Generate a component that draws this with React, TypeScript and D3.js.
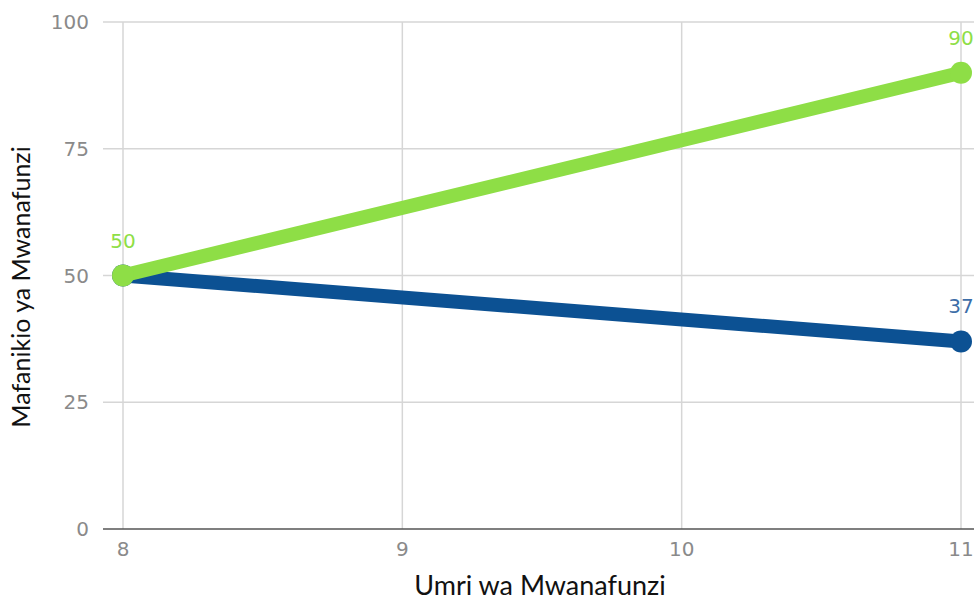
import { useEffect, useRef } from "react";
import * as d3 from "d3";

const ages = [8, 11];
const greenValues = [50, 90];
const blueValues = [50, 37];
const xTicks = [8, 9, 10, 11];
const yTicks = [0, 25, 50, 75, 100];
const xTitle = "Umri wa Mwanafunzi";
const yTitle = "Mafanikio ya Mwanafunzi";

const series = [
  { name: "blue", values: blueValues, color: "#0c5193", labelColor: "#3d6ea8", showLabel: [false, true] },
  { name: "green", values: greenValues, color: "#8ede46", labelColor: "#8ede46", showLabel: [true, true] },
];

export default function App() {
  const svgRef = useRef<SVGSVGElement>(null);

  useEffect(() => {
    const svg = d3.select(svgRef.current);
    svg.selectAll("*").remove();

    const x = d3.scaleLinear().domain([8, 11]).range([123, 961]);
    const y = d3.scaleLinear().domain([0, 100]).range([529, 22]);

    // grid
    svg
      .append("g")
      .selectAll("line")
      .data(yTicks.filter((t) => t > 0))
      .join("line")
      .attr("x1", 103)
      .attr("x2", 974)
      .attr("y1", (d) => y(d))
      .attr("y2", (d) => y(d))
      .attr("stroke", "#d6d6d6")
      .attr("stroke-width", 1.5);

    svg
      .append("g")
      .selectAll("line")
      .data(xTicks)
      .join("line")
      .attr("x1", (d) => x(d))
      .attr("x2", (d) => x(d))
      .attr("y1", y(100))
      .attr("y2", y(0))
      .attr("stroke", "#d6d6d6")
      .attr("stroke-width", 1.5);

    // baseline
    svg
      .append("line")
      .attr("x1", 103)
      .attr("x2", 974)
      .attr("y1", y(0))
      .attr("y2", y(0))
      .attr("stroke", "#555")
      .attr("stroke-width", 1.5);

    // tick labels
    svg
      .append("g")
      .selectAll("text")
      .data(yTicks)
      .join("text")
      .attr("x", 89)
      .attr("y", (d) => y(d))
      .attr("dy", "0.36em")
      .attr("text-anchor", "end")
      .attr("fill", "#8a8a8a")
      .style("font-family", "'DejaVu Sans', sans-serif")
      .style("font-size", "20px")
      .text((d) => d);

    svg
      .append("g")
      .selectAll("text")
      .data(xTicks)
      .join("text")
      .attr("x", (d) => x(d))
      .attr("y", 556)
      .attr("text-anchor", "middle")
      .attr("fill", "#8a8a8a")
      .style("font-family", "'DejaVu Sans', sans-serif")
      .style("font-size", "20px")
      .text((d) => d);

    // axis titles
    svg
      .append("text")
      .attr("x", 540)
      .attr("y", 595)
      .attr("text-anchor", "middle")
      .attr("fill", "#111")
      .style("font-family", "Lato, sans-serif")
      .style("font-size", "27px")
      .text(xTitle);

    svg
      .append("text")
      .attr("transform", "translate(30,287) rotate(-90)")
      .attr("text-anchor", "middle")
      .attr("fill", "#111")
      .style("font-family", "Lato, sans-serif")
      .style("font-size", "25px")
      .text(yTitle);

    const line = d3
      .line<number>()
      .x((_, i) => x(ages[i]))
      .y((d) => y(d));

    series.forEach((s) => {
      const g = svg.append("g");
      g.append("path")
        .datum(s.values)
        .attr("fill", "none")
        .attr("stroke", s.color)
        .attr("stroke-width", 14)
        .attr("d", line);

      g.selectAll("circle")
        .data(s.values)
        .join("circle")
        .attr("cx", (_, i) => x(ages[i]))
        .attr("cy", (d) => y(d))
        .attr("r", 11)
        .attr("fill", s.color);

      g.selectAll("text")
        .data(s.values.map((v, i) => ({ v, i })).filter((d) => s.showLabel[d.i]))
        .join("text")
        .attr("x", (d) => x(ages[d.i]))
        .attr("y", (d) => y(d.v) - 28)
        .attr("text-anchor", "middle")
        .attr("fill", s.labelColor)
        .style("font-family", "'DejaVu Sans', sans-serif")
        .style("font-size", "20px")
        .style("font-weight", "normal")
        .text((d) => d.v);
    });
  }, []);

  return (
    <svg
      ref={svgRef}
      width={974}
      height={601}
      style={{ position: "absolute", left: 0, top: 0, background: "#fff" }}
    />
  );
}
